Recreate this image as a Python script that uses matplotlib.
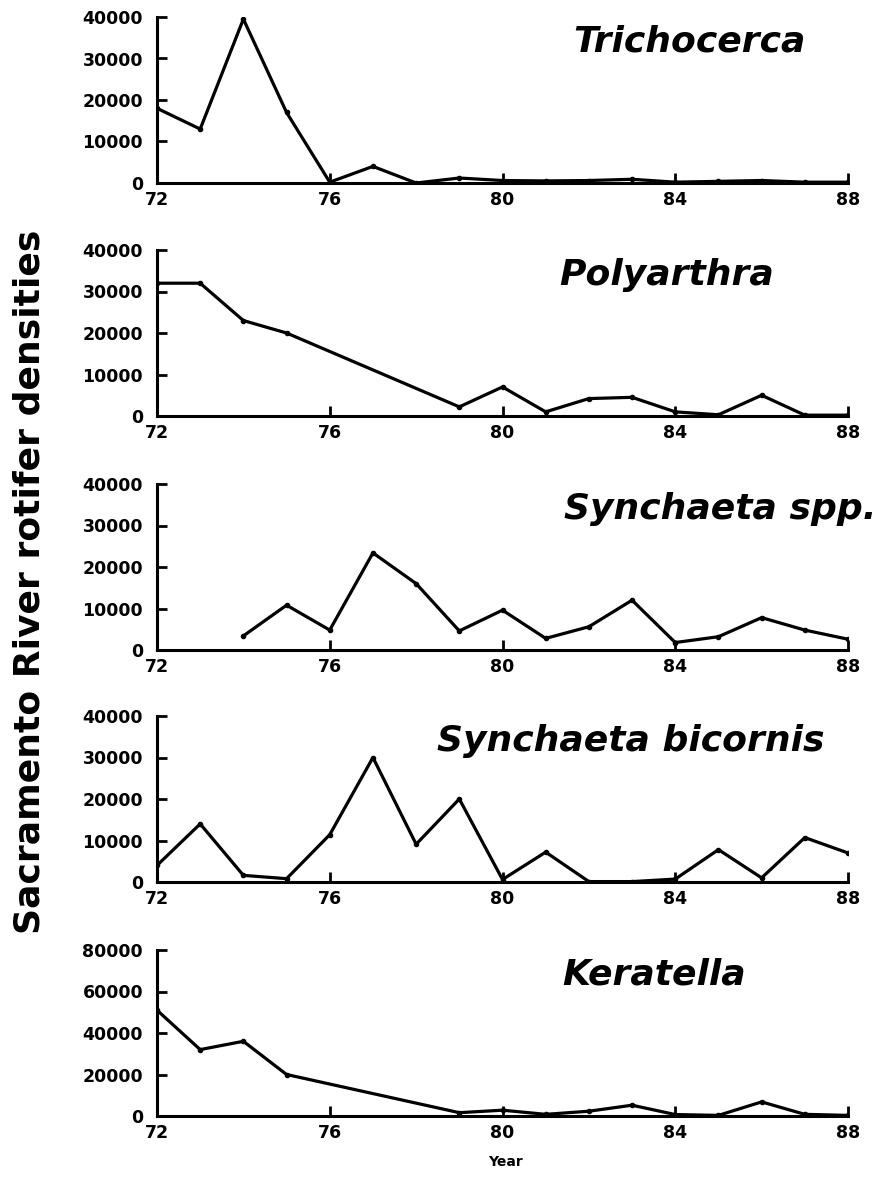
import matplotlib.pyplot as plt

# years with data for each species
years_full = [72, 73, 74, 75, 76, 77, 78, 79, 80, 81, 82, 83, 84, 85, 86, 87, 88]
years_gap = [72, 73, 74, 75, 79, 80, 81, 82, 83, 84, 85, 86, 87, 88]
years_syn = [74, 75, 76, 77, 78, 79, 80, 81, 82, 83, 84, 85, 86, 87, 88]

trichocerca = [18000, 13000, 39500, 17000, 200, 4000, 0, 1200, 600, 500, 600, 900, 200, 400, 600, 200, 200]
polyarthra = [32000, 32000, 23000, 20000, 2200, 7000, 1000, 4200, 4500, 1000, 300, 5000, 200, 200]
synchaeta_spp = [3400, 10800, 4800, 23400, 16000, 4600, 9600, 2800, 5600, 12000, 1800, 3200, 7800, 4800, 2600]
synchaeta_bic = [4000, 14000, 1600, 800, 11400, 30000, 9100, 20000, 600, 7200, 100, 100, 700, 7800, 1000, 10700, 7000]
keratella = [51000, 32000, 36000, 20000, 1600, 2800, 800, 2300, 5200, 700, 300, 6800, 800, 300]

names = ['Trichocerca', 'Polyarthra', 'Synchaeta spp.', 'Synchaeta bicornis', 'Keratella']
xs = [years_full, years_gap, years_syn, years_full, years_gap]
ys = [trichocerca, polyarthra, synchaeta_spp, synchaeta_bic, keratella]
ymaxs = [40000, 40000, 40000, 40000, 80000]
label_x = [0.771, 0.738, 0.815, 0.685, 0.72]

plt.rcParams['font.family'] = 'DejaVu Sans'
plt.rcParams['font.weight'] = 'bold'

fig = plt.figure(figsize=(8.87, 11.88), dpi=100)

tops = [17, 250, 484, 716, 950]
for i in range(5):
    ax = fig.add_axes([157 / 887, 1 - (tops[i] + 166) / 1188, 691 / 887, 166 / 1188])
    ax.plot(xs[i], ys[i], color='black', linewidth=2.3, marker='o', markersize=3)
    ax.set_xlim(72, 88)
    ax.set_ylim(0, ymaxs[i])
    ax.set_xticks([72, 76, 80, 84, 88])
    ax.set_yticks([ymaxs[i] * k / 4 for k in range(5)])
    ax.set_yticklabels([str(int(ymaxs[i] * k / 4)) for k in range(5)])
    for s in ['top', 'right']:
        ax.spines[s].set_visible(False)
    for s in ['left', 'bottom']:
        ax.spines[s].set_linewidth(2.2)
    ax.tick_params(axis='both', direction='in', width=2, length=7, labelsize=12.5)
    ax.tick_params(axis='x', pad=6)
    ax.tick_params(axis='y', pad=10)
    ax.text(label_x[i], 0.85, names[i], transform=ax.transAxes, ha='center', va='center',
            fontsize=26, fontweight='bold', fontstyle='italic')

fig.text(30 / 887, 1 - 582 / 1188, 'Sacramento River rotifer densities', rotation=90,
         ha='center', va='center', fontsize=26, fontweight='bold')
fig.text(505 / 887, 1 - 1162 / 1188, 'Year', ha='center', va='center', fontsize=10, fontweight='bold')

plt.savefig('out.png', dpi=100)
